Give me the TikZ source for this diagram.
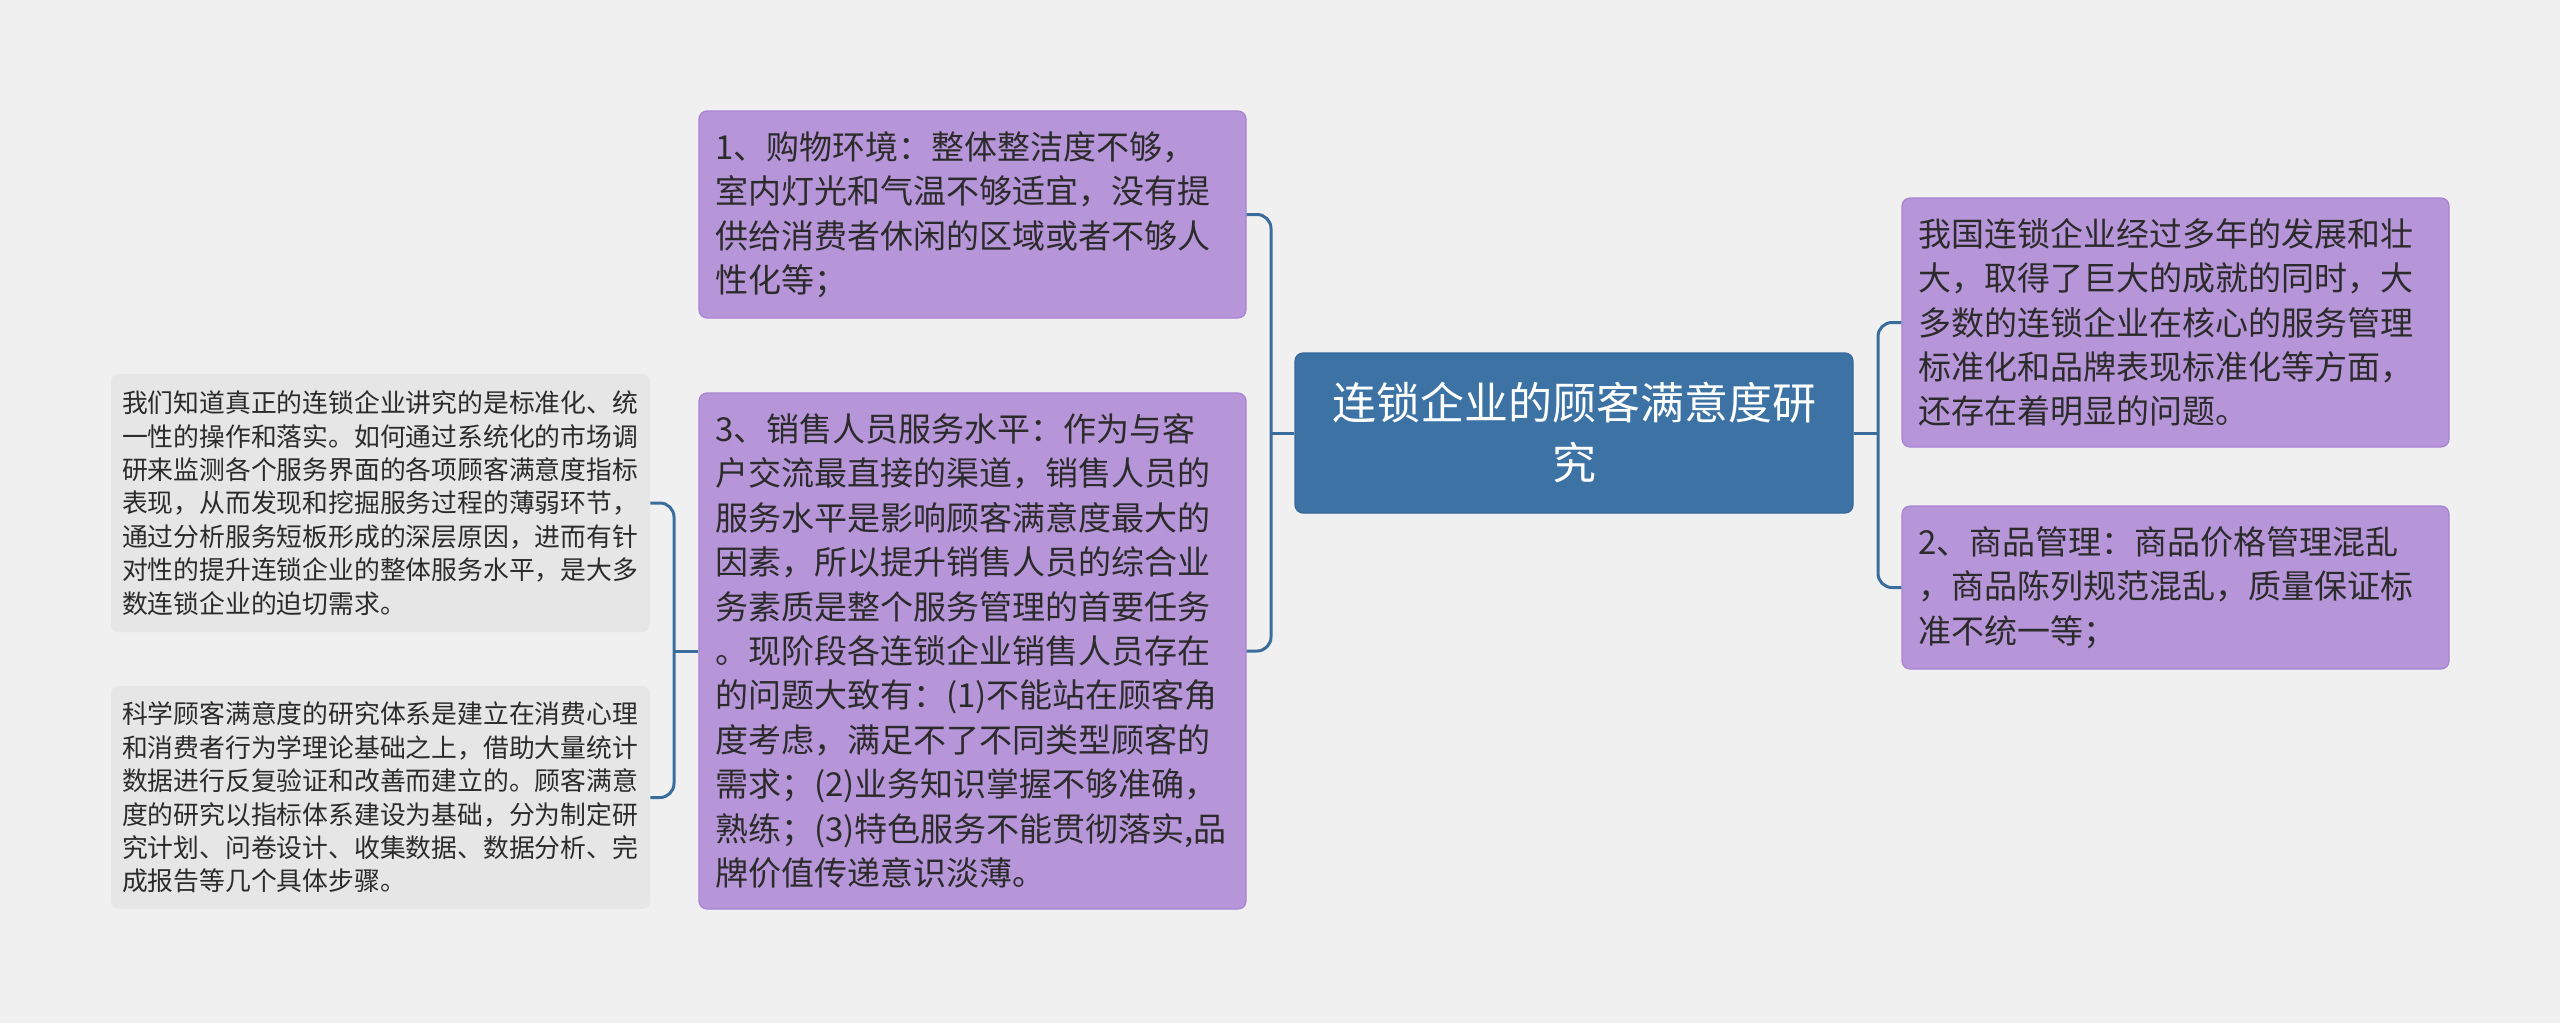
\documentclass[tikz,border=0pt]{standalone}
\usepackage{fontspec}
\setmainfont{Noto Sans CJK SC}
\definecolor{bgc}{HTML}{F0F0F0}
\definecolor{pfill}{HTML}{B795D9}
\definecolor{pborder}{HTML}{A883D3}
\definecolor{gfill}{HTML}{E6E6E6}
\definecolor{cfill}{HTML}{3D72A5}
\definecolor{cborder}{HTML}{35669A}
\definecolor{conn}{HTML}{3A6D9C}
\definecolor{txt}{HTML}{2B2B2B}
\tikzset{
  pbox/.style={draw=pborder, fill=pfill, rounded corners=4pt, line width=0.6pt,
    text=txt, align=left, inner xsep=8pt, inner ysep=0pt, text width=257.5pt,
    minimum height=#1, font=\fontsize{16.5}{22.2}\selectfont},
  gbox/.style={draw=none, fill=gfill, rounded corners=4pt,
    text=txt, align=left, inner xsep=5.5pt, inner ysep=0pt, text width=258.5pt,
    minimum height=#1, font=\fontsize{12.9}{16.7}\selectfont},
  cbox/.style={draw=cborder, fill=cfill, rounded corners=4pt, line width=0.6pt,
    text=white, align=center, inner xsep=8pt, inner ysep=0pt, text width=263pt,
    minimum height=80pt, font=\fontsize{22}{30}\selectfont},
  link/.style={draw=conn, line width=1.5pt, rounded corners=7pt}
}
\begin{document}
\begin{tikzpicture}[x=0.5pt,y=-0.5pt]
\useasboundingbox (0,0) rectangle (2560,1023);
\fill[bgc] (0,0) rectangle (2560,1023);

\node[cbox] (c) at (1574,433) {连锁企业的顾客满意度研\\究};

\node[pbox=103.5pt] (b1) at (972.5,214.5) {1、购物环境：整体整洁度不够，\\室内灯光和气温不够适宜，没有提\\供给消费者休闲的区域或者不够人\\性化等；};

\node[pbox=258pt] (b3) at (972.5,651) {3、销售人员服务水平：作为与客\\户交流最直接的渠道，销售人员的\\服务水平是影响顾客满意度最大的\\因素，所以提升销售人员的综合业\\务素质是整个服务管理的首要任务\\。现阶段各连锁企业销售人员存在\\的问题大致有：(1)不能站在顾客角\\度考虑，满足不了不同类型顾客的\\需求；(2)业务知识掌握不够准确，\\熟练；(3)特色服务不能贯彻落实,品\\牌价值传递意识淡薄。};

\node[pbox=124.5pt] (ra) at (2175.5,322.5) {我国连锁企业经过多年的发展和壮\\大，取得了巨大的成就的同时，大\\多数的连锁企业在核心的服务管理\\标准化和品牌表现标准化等方面，\\还存在着明显的问题。};

\node[pbox=81.5pt] (rb) at (2175.5,587.5) {2、商品管理：商品价格管理混乱\\，商品陈列规范混乱，质量保证标\\准不统一等；};

\node[gbox=129pt] (g1) at (380.5,503) {我们知道真正的连锁企业讲究的是标准化、统\\一性的操作和落实。如何通过系统化的市场调\\研来监测各个服务界面的各项顾客满意度指标\\表现，从而发现和挖掘服务过程的薄弱环节，\\通过分析服务短板形成的深层原因，进而有针\\对性的提升连锁企业的整体服务水平，是大多\\数连锁企业的迫切需求。};

\node[gbox=111.5pt] (g2) at (380.5,797.5) {科学顾客满意度的研究体系是建立在消费心理\\和消费者行为学理论基础之上，借助大量统计\\数据进行反复验证和改善而建立的。顾客满意\\度的研究以指标体系建设为基础，分为制定研\\究计划、问卷设计、收集数据、数据分析、完\\成报告等几个具体步骤。};

\coordinate (jl) at (1271,433);
\coordinate (jr) at (1878,433);
\coordinate (jg) at (674,651);

\draw[link] (b1.east) -| (jl) |- (b3.east);
\draw[link] (c.west) -- (jl);
\draw[link] (ra.west) -| (jr) |- (rb.west);
\draw[link] (c.east) -- (jr);
\draw[link] (g1.east) -| (jg) |- (g2.east);
\draw[link] (b3.west) -- (jg);
\end{tikzpicture}
\end{document}
